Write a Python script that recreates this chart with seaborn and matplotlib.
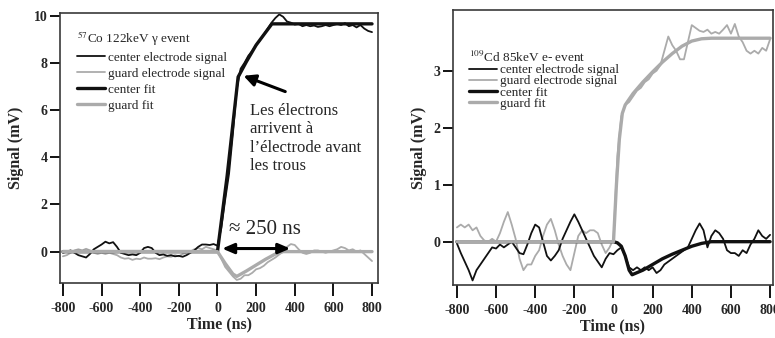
import numpy as np
import pandas as pd
import seaborn as sns
import matplotlib.pyplot as plt
from matplotlib.lines import Line2D

sns.set_style("ticks")
plt.rcParams['font.family'] = ['Liberation Serif', 'DejaVu Serif']
plt.rcParams['mathtext.fontset'] = 'stix'
plt.rcParams['axes.unicode_minus'] = False

# time grid of the digitised signals (ns)
t_grid = np.arange(-800, 801, 20)

# --- left: 57Co 122keV gamma event ---
co_center_sig = [
    -0.05, 0.0, 0.05, -0.05, -0.15, -0.2, -0.25, -0.1, 0.1, 0.2,
    0.3, 0.42, 0.35, 0.4, 0.2, -0.05, -0.1, -0.15, -0.12, -0.15,
    -0.05, 0.15, 0.2, 0.15, -0.05, -0.15, -0.12, -0.18, -0.15, -0.2,
    -0.18, -0.22, -0.15, -0.05, 0.05, 0.2, 0.3, 0.3, 0.28, 0.32,
    0.25, 1.0, 2.2, 3.3, 5.0, 6.9, 7.75, 8.0, 8.3, 8.5,
    8.75, 8.95, 9.2, 9.45, 9.7, 9.9, 10.05, 9.95, 9.75, 9.7,
    9.62, 9.65, 9.55, 9.6, 9.55, 9.58, 9.52, 9.55, 9.6, 9.55,
    9.6, 9.65, 9.6, 9.68, 9.55, 9.6, 9.5, 9.6, 9.45, 9.35, 9.3]
co_guard_sig = [
    -0.2, -0.15, -0.05, 0.05, 0.1, 0.05, 0.12, 0.05, -0.05, -0.1,
    -0.05, -0.1, -0.05, -0.1, -0.15, -0.25, -0.3, -0.28, -0.35, -0.3,
    -0.32, -0.25, -0.3, -0.3, -0.28, -0.32, -0.25, -0.2, -0.22, -0.15,
    -0.2, -0.1, -0.05, 0.0, 0.1, 0.15, 0.1, 0.2, 0.15, 0.1,
    0.05, -0.3, -0.65, -0.85, -1.05, -1.2, -1.15, -1.0, -1.0, -0.9,
    -0.75, -0.7, -0.6, -0.45, -0.35, -0.25, -0.12, 0.0, 0.2, 0.32,
    0.28, 0.1, -0.05, -0.1, -0.05, 0.05, 0.05, 0.0, -0.05, 0.0,
    0.05, 0.1, 0.2, 0.15, 0.05, 0.1, 0.0, 0.05, -0.1, -0.25, -0.4]
co_center_fit_t = [-800, 0, 50, 107, 150, 200, 250, 282, 800]
co_center_fit = [0, 0, 3.2, 7.4, 8.05, 8.75, 9.3, 9.65, 9.65]
co_guard_fit_t = [-800, 0, 40, 80, 100, 150, 200, 250, 300, 340, 800]
co_guard_fit = [0, 0, -0.5, -0.95, -1.05, -0.82, -0.57, -0.32, -0.1, 0, 0]

# --- right: 109Cd 85keV e- event ---
cd_center_sig = [
    -0.03, -0.2, -0.35, -0.5, -0.68, -0.5, -0.4, -0.3, -0.2, -0.1,
    -0.12, -0.05, -0.1, -0.05, 0.0, -0.1, -0.2, -0.22, -0.05, 0.15,
    0.3, 0.25, 0.0, -0.25, -0.33, -0.25, -0.15, 0.05, 0.2, 0.35,
    0.48, 0.35, 0.2, 0.05, -0.1, -0.25, -0.35, -0.45, -0.3, -0.2,
    -0.22, -0.15, -0.1, -0.25, -0.45, -0.5, -0.45, -0.5, -0.45, -0.5,
    -0.45, -0.55, -0.5, -0.4, -0.35, -0.3, -0.25, -0.2, -0.15, -0.1,
    0.05, 0.2, 0.32, 0.2, -0.1, 0.1, 0.2, 0.15, 0.05, -0.15,
    -0.2, -0.2, -0.25, -0.15, -0.2, -0.05, 0.05, 0.2, 0.1, 0.05, 0.12]
cd_guard_sig = [
    0.25, 0.3, 0.25, 0.3, 0.2, 0.25, 0.1, 0.02, 0.0, 0.05,
    0.0, 0.15, 0.35, 0.52, 0.3, 0.05, -0.3, -0.5, -0.4, -0.4,
    -0.25, -0.15, 0.1, 0.3, 0.4, 0.2, -0.05, -0.25, -0.4, -0.5,
    -0.2, 0.1, 0.2, 0.15, 0.2, 0.2, 0.15, -0.05, -0.2, -0.1,
    0.05, 1.5, 2.2, 2.4, 2.45, 2.55, 2.65, 2.7, 2.8, 2.85,
    2.95, 3.0, 3.1, 3.35, 3.6, 3.45, 3.35, 3.2, 3.2, 3.5,
    3.8, 3.75, 3.7, 3.68, 3.72, 3.65, 3.68, 3.65, 3.72, 3.8,
    3.65, 3.82, 3.6, 3.5, 3.35, 3.3, 3.35, 3.3, 3.4, 3.35, 3.55]
cd_center_fit_t = [-800, 0, 20, 40, 60, 80, 95, 150, 200, 250, 300, 350, 400, 450, 500, 800]
cd_center_fit = [0, 0, -0.02, -0.08, -0.25, -0.5, -0.58, -0.5, -0.4, -0.3, -0.22, -0.15, -0.08, -0.03, 0, 0]
cd_guard_fit_t = [-800, 0, 15, 30, 45, 60, 100, 150, 200, 250, 300, 350, 400, 450, 500, 800]
cd_guard_fit = [0, 0, 1.0, 1.8, 2.25, 2.4, 2.6, 2.8, 2.98, 3.15, 3.3, 3.43, 3.52, 3.56, 3.57, 3.57]

BLACK = '#111111'
GREY = '#ababab'
labels = ['center electrode signal', 'guard electrode signal', 'center fit', 'guard fit']

fig = plt.figure(figsize=(7.75, 3.38), dpi=100)
ax1 = fig.add_axes([60/775, 1-283/338, (378-60)/775, (283-13)/338])
ax2 = fig.add_axes([453/775, 1-285/338, (773-453)/775, (285-10)/338])


def draw_panel(ax, c_sig, g_sig, c_fit_t, c_fit, g_fit_t, g_fit):
    sns.lineplot(x=t_grid, y=g_sig, ax=ax, color=GREY, lw=1.3)
    sns.lineplot(x=t_grid, y=c_sig, ax=ax, color=BLACK, lw=1.3)
    sns.lineplot(x=c_fit_t, y=c_fit, ax=ax, color=BLACK, lw=2.4)
    sns.lineplot(x=g_fit_t, y=g_fit, ax=ax, color=GREY, lw=2.4)
    for s in ax.spines.values():
        s.set_color('#3a3a3a')
        s.set_linewidth(1.2)
    ax.set_xticks(range(-800, 801, 200))
    ax.tick_params(axis='x', length=9, width=1.3, pad=5, labelsize=10, color='black')
    ax.tick_params(axis='y', length=7, width=1.3, pad=2, labelsize=10, color='black')
    for lab in ax.get_xticklabels() + ax.get_yticklabels():
        lab.set_fontweight('bold')
    ax.set_xlabel('Time (ns)', fontsize=11.5, fontweight='bold', labelpad=1)
    ax.set_ylabel('Signal (mV)', fontsize=11.5, fontweight='bold')


draw_panel(ax1, co_center_sig, co_guard_sig, co_center_fit_t, co_center_fit,
           co_guard_fit_t, co_guard_fit)
ax1.set_xlim(-815, 831)
ax1.set_ylim(-1.33, 10.11)
ax1.set_yticks([0, 2, 4, 6, 8, 10])
ax1.yaxis.labelpad = 7

draw_panel(ax2, cd_center_sig, cd_guard_sig, cd_center_fit_t, cd_center_fit,
           cd_guard_fit_t, cd_guard_fit)
ax2.set_xlim(-820, 815)
ax2.set_ylim(-0.76, 4.065)
ax2.set_yticks([0, 1, 2, 3])
ax2.yaxis.labelpad = 5

handles = [Line2D([], [], color=BLACK, lw=1.3), Line2D([], [], color=GREY, lw=1.3),
           Line2D([], [], color=BLACK, lw=2.4), Line2D([], [], color=GREY, lw=2.4)]

leg1 = ax1.legend(handles, labels, title='$^{57}$Co 122keV γ event', loc='upper left',
                  bbox_to_anchor=(0.055, 0.94), frameon=False, fontsize=9.5,
                  title_fontsize=9.5, handlelength=2.1, handletextpad=0.25,
                  labelspacing=0.28, borderpad=0, borderaxespad=0)
leg1._legend_box.align = 'left'

leg2 = ax2.legend(handles, labels, title='$^{109}$Cd 85keV e- event', loc='upper left',
                  bbox_to_anchor=(0.05, 0.855), frameon=False, fontsize=9.5,
                  title_fontsize=9.5, handlelength=2.1, handletextpad=0.25,
                  labelspacing=-0.08, borderpad=0, borderaxespad=0)
leg2._legend_box.align = 'left'

# annotations on the left panel
ax1.text(170, 6.3, 'Les électrons\narrivent à\nl’électrode avant\nles trous',
         fontsize=12, va='top', ha='left')
ax1.annotate('', xy=(135, 7.45), xytext=(351, 6.78),
             arrowprops=dict(arrowstyle='-|>,head_length=0.7,head_width=0.35',
                             color='black', lw=2.2, shrinkA=0, shrinkB=0))
ax1.annotate('', xy=(24, 0.13), xytext=(377, 0.13),
             arrowprops=dict(arrowstyle='<|-|>,head_length=0.7,head_width=0.3',
                             color='black', lw=2.2, shrinkA=0, shrinkB=0))
ax1.text(248, 0.92, '≈ 250 ns', fontsize=15, ha='center', va='center')

fig.savefig('out.png', dpi=100)
